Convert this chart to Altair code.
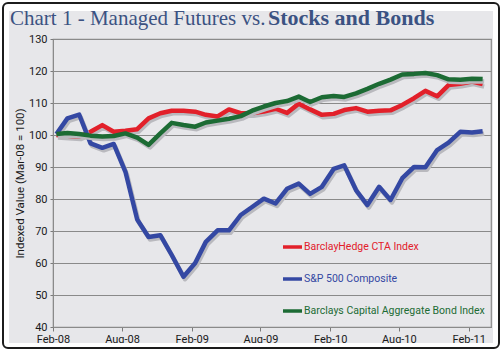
import altair as alt
import pandas as pd

month_labels = [d.strftime("%Y-%m-%dT00:00") for d in pd.date_range("2008-02-01", periods=38, freq="MS")]

cta = [100, 99.8, 99.5, 101, 103.1, 101, 101.3, 101.8, 105.2, 106.8, 107.6, 107.6,
       107.3, 106.3, 105.8, 108, 106.8, 106.8, 107.3, 108.2, 106.9, 109.8, 108, 106.3,
       106.6, 107.8, 108.4, 107.3, 107.6, 107.7, 109.4, 111.5, 113.8, 112.1, 115.6, 116,
       116.7, 115.9]
sp500 = [100.3, 105.2, 106.4, 97.4, 96, 97.2, 88.5, 73.6, 68.1, 68.7, 62.5, 55.7,
         60, 66.6, 70.2, 70.2, 75, 77.5, 80.1, 78.6, 83.2, 84.8, 81.6, 83.8,
         89.4, 90.5, 82.8, 78.1, 83.8, 79.7, 86.5, 90, 89.9, 95.3, 97.6, 101,
         100.8, 101.2]
bonds = [100.3, 100.6, 100.3, 99.8, 99.5, 99.7, 100.5, 99.2, 96.9, 100.5, 103.8, 103.1,
         102.6, 103.9, 104.5, 105.1, 105.9, 107.6, 108.9, 110, 110.6, 112, 110.3, 111.8,
         112.2, 111.9, 113, 114.4, 116, 117.3, 118.9, 119.1, 119.4, 118.7, 117.4, 117.3,
         117.6, 117.5]

series_names = ["BarclayHedge CTA Index", "S&P 500 Composite", "Barclays Capital Aggregate Bond Index"]
series_colors = ["#e2202a", "#3448a3", "#1c6b34"]
series_values = [cta, sp500, bonds]

tick_dates = ["2008-02-01", "2008-08-01", "2009-02-01", "2009-08-01",
              "2010-02-01", "2010-08-01", "2011-02-01"]
y_ticks = [40, 50, 60, 70, 80, 90, 100, 110, 120, 130]

# observation dates: one per month
dates = [m[:8] + "10T00:00" for m in month_labels]

rows = []
for name, vals in zip(series_names, series_values):
    for d, v in zip(dates, vals):
        rows.append({"date": d, "series": name, "value": v})
df = pd.DataFrame(rows)

FONT = "Roboto"
TITLE_FONT = "Liberation Serif"

x_enc = alt.X(
    "date:T",
    scale=alt.Scale(domain=[alt.DateTime(year=2008, month=2, date=1),
                            alt.DateTime(year=2011, month=4, date=1)]),
    axis=alt.Axis(
        title=None,
        values=[alt.DateTime(year=int(t[:4]), month=int(t[5:7]), date=1) for t in tick_dates],
        format="%b-%y", labelFont=FONT, labelFontSize=11, labelColor="#1a1a1a",
        tickSize=4, tickColor="#7a7a7a", domainColor="#8a8a8a", labelPadding=2,
        grid=False, labelFlush=False,
    ),
)
y_enc = alt.Y(
    "value:Q",
    scale=alt.Scale(domain=[40, 130], nice=False, zero=False),
    axis=alt.Axis(
        title="Indexed Value (Mar-08 = 100)", titleFont=FONT, titleFontSize=11.5,
        titleFontWeight="normal", titleColor="#1a1a1a", titlePadding=3,
        values=y_ticks, labelFont=FONT, labelFontSize=11, labelColor="#1a1a1a",
        tickSize=3, tickColor="#7a7a7a", domainColor="#8a8a8a", labelPadding=3,
        grid=True, gridColor="#8a8a8a", gridWidth=1.2,
    ),
)

# frame
frame_white = alt.Chart(pd.DataFrame({"a": [0]})).mark_rect(
    fill="white", fillOpacity=0, stroke="white", strokeWidth=22
).encode(x=alt.value(-55), x2=alt.value(451), y=alt.value(-39), y2=alt.value(315))
frame_black = alt.Chart(pd.DataFrame({"a": [0]})).mark_rect(
    fillOpacity=0, stroke="#1c1c1c", strokeWidth=2, cornerRadius=5
).encode(x=alt.value(-50), x2=alt.value(446), y=alt.value(-36), y2=alt.value(309))

line_layers = []
for name, color in zip(series_names, series_colors):
    shadow = alt.Chart(df).transform_filter(alt.datum.series == name).mark_line(
        color="#b9b9be", strokeWidth=4.5, xOffset=1.5, yOffset=2.5, strokeJoin="round"
    ).encode(x=x_enc, y=y_enc)
    line = alt.Chart(df).transform_filter(alt.datum.series == name).mark_line(
        color=color, strokeWidth=4.5, strokeJoin="round"
    ).encode(x=x_enc, y=y_enc)
    line_layers += [shadow, line]

lines = alt.layer(*line_layers)

leg_df = pd.DataFrame({"series": series_names})
leg_y = alt.Y("series:O", scale=alt.Scale(type="point", domain=series_names, range=[208, 272], padding=0), axis=None)
leg_color = alt.Color("series:N", scale=alt.Scale(domain=series_names, range=series_colors), legend=None)
leg_rule = alt.Chart(leg_df).mark_rule(strokeWidth=3.5).encode(
    x=alt.value(230), x2=alt.value(249), y=leg_y, color=leg_color)
leg_text = alt.Chart(leg_df).mark_text(
    align="left", baseline="middle", font=FONT, fontSize=10.5
).encode(x=alt.value(251), y=leg_y, text="series:N", color=leg_color)
legend = alt.layer(leg_rule, leg_text)

title_regular = "Chart 1 - Managed Futures vs."
title_bold = "Stocks and Bonds"
t1 = alt.Chart(pd.DataFrame({"t": [title_regular]})).mark_text(
    align="left", baseline="alphabetic", font=TITLE_FONT, fontSize=21, color="#3b5282"
).encode(x=alt.value(-43), y=alt.value(-14), text="t:N")
t2 = alt.Chart(pd.DataFrame({"t": [title_bold]})).mark_text(
    align="left", baseline="alphabetic", font=TITLE_FONT, fontSize=22, fontWeight="bold", color="#3b5282"
).encode(x=alt.value(215), y=alt.value(-14), text="t:N")

chart = alt.layer(frame_white, frame_black, lines, legend, t1, t2).resolve_scale(
    y="independent", color="independent"
).properties(
    width=438, height=288,
    autosize=alt.AutoSizeParams(type="none"),
    padding={"left": 53, "top": 39, "right": 13, "bottom": 25},
    background="#e7e7ea",
).configure_view(stroke="#8a8a8a", strokeWidth=1.2)

chart.save("out.html", embed_options={"renderer": "svg", "actions": False})
